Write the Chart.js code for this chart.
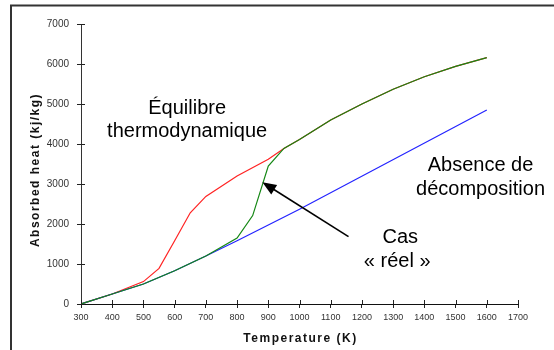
<!DOCTYPE html>
<html>
<head>
<meta charset="utf-8">
<script src="https://cdn.jsdelivr.net/npm/chart.js@4.4.1/dist/chart.umd.min.js"></script>
<style>
  html, body { margin: 0; padding: 0; background: #fff; }
  #wrap { width: 554px; height: 350px; }
</style>
</head>
<body>
<div id="wrap"><canvas id="chart" width="554" height="350"></canvas></div>
<script>
// valeurs (K, kJ/kg)
const tempsAbsence = [300, 400, 500, 600, 700, 800, 1000, 1600];
const chaleurAbsence = [0, 250, 500, 830, 1200, 1580, 2370, 4850];

const tempsEquilibre = [300, 400, 500, 550, 600, 650, 700, 800, 900, 950, 1000, 1100, 1200, 1300, 1400, 1500, 1600];
const chaleurEquilibre = [0, 250, 560, 890, 1580, 2280, 2690, 3200, 3620, 3890, 4110, 4600, 5000, 5370, 5680, 5940, 6160];

const tempsReel = [300, 400, 500, 600, 700, 800, 850, 900, 950, 1000, 1100, 1200, 1300, 1400, 1500, 1600];
const chaleurReel = [0, 250, 500, 830, 1200, 1650, 2210, 3450, 3890, 4110, 4600, 5000, 5370, 5680, 5940, 6160];

const ticksX = [300, 1700, 100];   // min, max, pas
const ticksY = [0, 7000, 1000];

const FONT = "'Liberation Sans', Arial, sans-serif";

const toPoints = (xs, ys) => xs.map((x, i) => ({ x: x, y: ys[i] }));

// textes posés en coordonnées de données
const etiquettes = [
    { txt: "Équilibre", x: 640, y: 4750 },
    { txt: "thermodynamique", x: 640, y: 4170 },
    { txt: "Absence de", x: 1580, y: 3325 },
    { txt: "décomposition", x: 1580, y: 2725 },
    { txt: "Cas", x: 1323, y: 1525 },
    { txt: "« réel »", x: 1313, y: 935 }
];
const fleche = { x1: 1157, y1: 1683, x2: 881, y2: 3043 };

const decor = {
    id: "decor",
    beforeDraw(chart) {
        const ctx = chart.ctx;
        ctx.save();
        ctx.strokeStyle = "#333";
        ctx.lineWidth = 2;
        ctx.beginPath();
        ctx.moveTo(11, 350);
        ctx.lineTo(11, 5.5);
        ctx.lineTo(554, 5.5);
        ctx.stroke();
        ctx.restore();
    },
    afterDraw(chart) {
        const ctx = chart.ctx;
        const sx = chart.scales.x, sy = chart.scales.y;
        const area = chart.chartArea;
        ctx.save();

        // petites graduations côté intérieur
        ctx.strokeStyle = "#222";
        ctx.lineWidth = 1;
        ctx.beginPath();
        sx.ticks.forEach(t => {
            const px = Math.round(sx.getPixelForValue(t.value)) + 0.5;
            ctx.moveTo(px, area.bottom);
            ctx.lineTo(px, area.bottom - 4);
        });
        sy.ticks.forEach(t => {
            const py = Math.round(sy.getPixelForValue(t.value)) + 0.5;
            ctx.moveTo(area.left, py);
            ctx.lineTo(area.left + 4, py);
        });
        ctx.stroke();

        // titres des axes
        ctx.fillStyle = "#111";
        ctx.font = "bold 12px " + FONT;
        ctx.letterSpacing = "1.5px";
        ctx.textAlign = "center";
        ctx.textBaseline = "middle";
        ctx.fillText("Temperature (K)", (area.left + area.right) / 2 + 1, 339);
        ctx.save();
        ctx.translate(36, 170);
        ctx.rotate(-Math.PI / 2);
        ctx.fillText("Absorbed heat (kj/kg)", 0, 0);
        ctx.restore();
        ctx.letterSpacing = "0px";

        // annotations
        ctx.font = "20px " + FONT;
        ctx.textBaseline = "alphabetic";
        ctx.fillStyle = "#000";
        etiquettes.forEach(e => {
            ctx.fillText(e.txt, sx.getPixelForValue(e.x), sy.getPixelForValue(e.y));
        });

        // flèche
        const x1 = sx.getPixelForValue(fleche.x1), y1 = sy.getPixelForValue(fleche.y1);
        const x2 = sx.getPixelForValue(fleche.x2), y2 = sy.getPixelForValue(fleche.y2);
        const ang = Math.atan2(y2 - y1, x2 - x1);
        ctx.strokeStyle = "#000";
        ctx.lineWidth = 1.6;
        ctx.beginPath();
        ctx.moveTo(x1, y1);
        ctx.lineTo(x2 - 8 * Math.cos(ang), y2 - 8 * Math.sin(ang));
        ctx.stroke();
        ctx.fillStyle = "#000";
        ctx.beginPath();
        ctx.moveTo(x2, y2);
        ctx.lineTo(x2 - 14 * Math.cos(ang) + 5.5 * Math.sin(ang), y2 - 14 * Math.sin(ang) - 5.5 * Math.cos(ang));
        ctx.lineTo(x2 - 14 * Math.cos(ang) - 5.5 * Math.sin(ang), y2 - 14 * Math.sin(ang) + 5.5 * Math.cos(ang));
        ctx.closePath();
        ctx.fill();

        ctx.restore();
    }
};

const ligne = (data, color, order) => ({
    data: data,
    borderColor: color,
    borderWidth: 1.2,
    pointRadius: 0,
    tension: 0,
    fill: false,
    order: order
});

new Chart(document.getElementById("chart").getContext("2d"), {
    type: "line",
    data: {
        datasets: [
            ligne(toPoints(tempsEquilibre, chaleurEquilibre), "rgb(255,35,35)", 3),
            ligne(toPoints(tempsAbsence, chaleurAbsence), "rgb(35,35,255)", 2),
            ligne(toPoints(tempsReel, chaleurReel), "rgb(20,135,20)", 1)
        ]
    },
    options: {
        responsive: false,
        animation: false,
        events: [],
        layout: { padding: { top: 24, right: 36, left: 0, bottom: 0 } },
        plugins: { legend: { display: false }, tooltip: { enabled: false } },
        scales: {
            x: {
                type: "linear",
                min: ticksX[0],
                max: ticksX[1],
                afterFit: s => { s.height = 46; },
                border: { color: "#111", width: 1 },
                grid: { drawOnChartArea: false, tickLength: 4, color: "#222" },
                ticks: {
                    stepSize: ticksX[2],
                    padding: 4,
                    maxRotation: 0,
                    color: "#333",
                    font: { family: FONT, size: 9 },
                    callback: v => String(v)
                }
            },
            y: {
                min: ticksY[0],
                max: ticksY[1],
                afterFit: s => { s.width = 81; },
                border: { color: "#333", width: 1 },
                grid: { drawOnChartArea: false, tickLength: 4, color: "#222" },
                ticks: {
                    stepSize: ticksY[2],
                    padding: 8,
                    color: "#333",
                    font: { family: FONT, size: 10 },
                    callback: v => String(v)
                }
            }
        }
    },
    plugins: [decor]
});
</script>
</body>
</html>
